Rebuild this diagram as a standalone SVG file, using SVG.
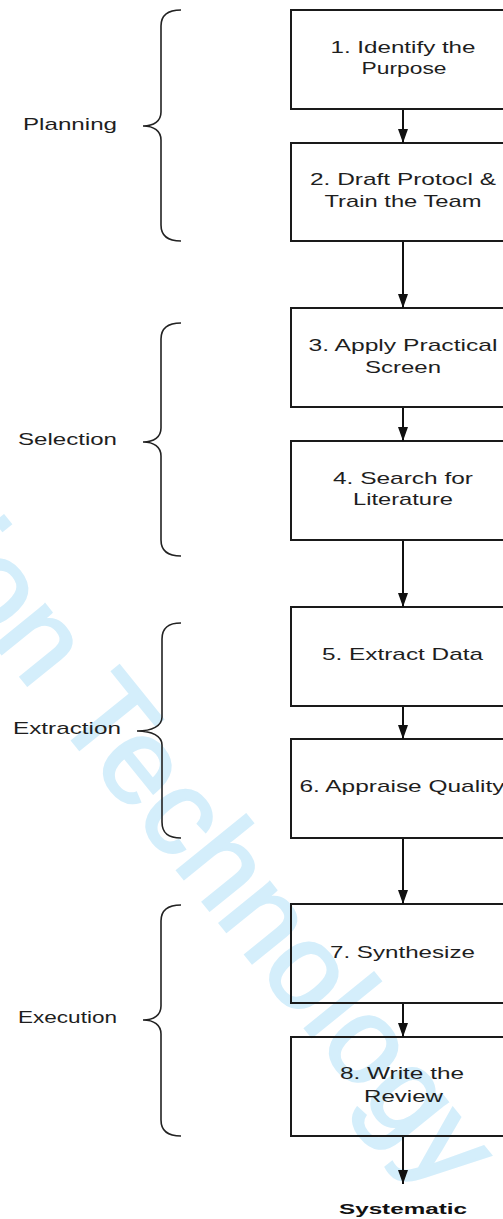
<svg xmlns="http://www.w3.org/2000/svg" width="503" height="1219" viewBox="0 0 503 1219">
<defs>
<style>
.wm{font-family:"Liberation Sans",Arial,sans-serif;font-size:122px;fill:#d4eefb;stroke:#d4eefb;stroke-width:2.5}
.box{fill:none;stroke:#1a1a1a;stroke-width:2}
.lbl{font-family:"Liberation Sans",Arial,sans-serif;font-size:17px;fill:#1e1e1e}
.bl{text-anchor:middle}
.brace{fill:none;stroke:#222;stroke-width:1.6}
.conn{fill:none;stroke:#111;stroke-width:2}
.sys{font-family:"Liberation Sans",Arial,sans-serif;font-size:15px;font-weight:bold;fill:#111;text-anchor:middle}
</style>
<marker id="arr" viewBox="0 0 14 10" refX="14" refY="5" markerWidth="14" markerHeight="10" markerUnits="userSpaceOnUse" orient="auto">
<path d="M0,0 L14,5 L0,10 z" fill="#111"/>
</marker>
</defs>
<rect x="0" y="0" width="503" height="1219" fill="#fff"/>
<g id="watermark">
<text class="wm" transform="translate(-70,565) rotate(51)">ion Technology</text>
</g>
<g id="phase-planning">
<path class="brace" d="M181,10 C169,10 161,14 161,26 L161,112 C161,121 154,126 143,126 C154,126 161,131 161,140 L161,225 C161,237 169,241 181,241"/>
<text class="lbl" x="23" y="130" textLength="94" lengthAdjust="spacingAndGlyphs">Planning</text>
</g>
<g id="phase-selection">
<path class="brace" d="M181,323 C169,323 161,327 161,339 L161,428 C161,437 154,442 143,442 C154,442 161,447 161,456 L161,540 C161,552 169,556 181,556"/>
<text class="lbl" x="18" y="445" textLength="99" lengthAdjust="spacingAndGlyphs">Selection</text>
</g>
<g id="phase-extraction">
<path class="brace" d="M181,623 C169,623 162,627 162,639 L162,717 C162,726 152,731 137,731 C152,731 162,736 162,745 L162,822 C162,834 169,838 181,838"/>
<text class="lbl" x="13" y="734" textLength="108" lengthAdjust="spacingAndGlyphs">Extraction</text>
</g>
<g id="phase-execution">
<path class="brace" d="M181,905 C169,905 161,909 161,921 L161,1006 C161,1015 154,1020 143,1020 C154,1020 161,1025 161,1034 L161,1120 C161,1132 169,1136 181,1136"/>
<text class="lbl" x="18" y="1023" textLength="99" lengthAdjust="spacingAndGlyphs">Execution</text>
</g>
<g id="step1">
<rect class="box" x="291" y="10" width="224" height="99"/>
<text class="lbl bl" x="403" y="53" textLength="145" lengthAdjust="spacingAndGlyphs">1. Identify the</text>
<text class="lbl bl" x="404" y="74" textLength="85" lengthAdjust="spacingAndGlyphs">Purpose</text>
</g>
<g id="step2">
<rect class="box" x="291" y="143" width="224" height="98"/>
<text class="lbl bl" x="403" y="185" textLength="186" lengthAdjust="spacingAndGlyphs">2. Draft Protocl &amp;</text>
<text class="lbl bl" x="403" y="207" textLength="157" lengthAdjust="spacingAndGlyphs">Train the Team</text>
</g>
<g id="step3">
<rect class="box" x="291" y="308" width="224" height="99"/>
<text class="lbl bl" x="403" y="351" textLength="189" lengthAdjust="spacingAndGlyphs">3. Apply Practical</text>
<text class="lbl bl" x="403" y="373" textLength="76" lengthAdjust="spacingAndGlyphs">Screen</text>
</g>
<g id="step4">
<rect class="box" x="291" y="441" width="224" height="99"/>
<text class="lbl bl" x="403" y="484" textLength="140" lengthAdjust="spacingAndGlyphs">4. Search for</text>
<text class="lbl bl" x="403" y="505" textLength="100" lengthAdjust="spacingAndGlyphs">Literature</text>
</g>
<g id="step5">
<rect class="box" x="291" y="607" width="224" height="99"/>
<text class="lbl bl" x="402.5" y="660" textLength="161" lengthAdjust="spacingAndGlyphs">5. Extract Data</text>
</g>
<g id="step6">
<rect class="box" x="291" y="739" width="224" height="99"/>
<text class="lbl bl" x="402" y="792" textLength="205" lengthAdjust="spacingAndGlyphs">6. Appraise Quality</text>
</g>
<g id="step7">
<rect class="box" x="291" y="904" width="224" height="99"/>
<text class="lbl bl" x="402.5" y="958" textLength="145" lengthAdjust="spacingAndGlyphs">7. Synthesize</text>
</g>
<g id="step8">
<rect class="box" x="291" y="1037" width="224" height="99"/>
<text class="lbl bl" x="402" y="1079" textLength="124" lengthAdjust="spacingAndGlyphs">8. Write the</text>
<text class="lbl bl" x="403.5" y="1102" textLength="79" lengthAdjust="spacingAndGlyphs">Review</text>
</g>
<g id="output">
<text class="sys" x="403" y="1214" textLength="128" lengthAdjust="spacingAndGlyphs">Systematic</text>
</g>
<g id="connectors">
<line class="conn" x1="403" y1="110" x2="403" y2="143" marker-end="url(#arr)"/>
<line class="conn" x1="403" y1="242" x2="403" y2="308" marker-end="url(#arr)"/>
<line class="conn" x1="403" y1="408" x2="403" y2="441" marker-end="url(#arr)"/>
<line class="conn" x1="403" y1="541" x2="403" y2="607" marker-end="url(#arr)"/>
<line class="conn" x1="403" y1="707" x2="403" y2="739" marker-end="url(#arr)"/>
<line class="conn" x1="403" y1="839" x2="403" y2="904" marker-end="url(#arr)"/>
<line class="conn" x1="403" y1="1004" x2="403" y2="1037" marker-end="url(#arr)"/>
<line class="conn" x1="403" y1="1137" x2="403" y2="1184" marker-end="url(#arr)"/>
</g>
</svg>
